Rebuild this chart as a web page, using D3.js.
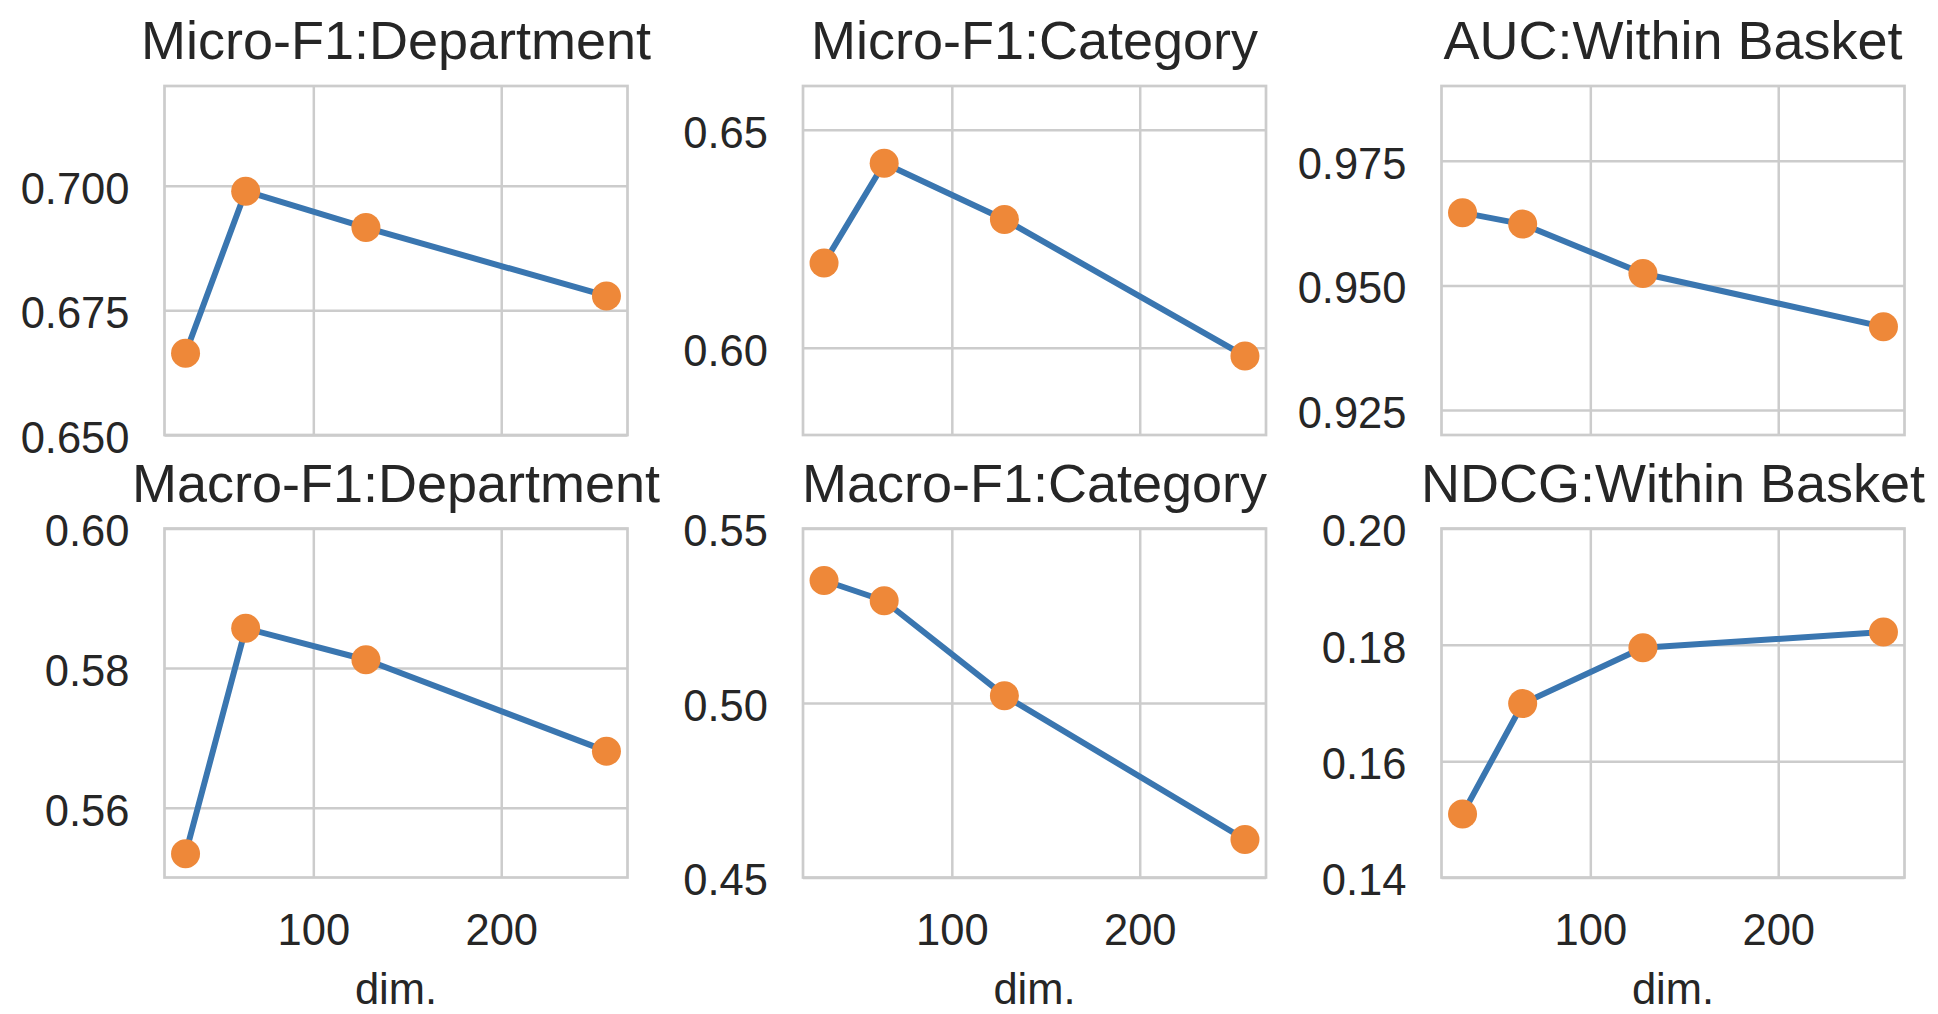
<!DOCTYPE html>
<html>
<head>
<meta charset="utf-8">
<script src="https://cdn.jsdelivr.net/npm/d3@7"></script>
<style>
  body { margin: 0; background: #fff; }
  svg { display: block; }
</style>
</head>
<body>
<svg id="chart" width="1938" height="1014"></svg>
<script>
// embedding sizes on the x axis
const dims = [32, 64, 128, 256];

const titles = [
  "Micro-F1:Department", "Micro-F1:Category", "AUC:Within Basket",
  "Macro-F1:Department", "Macro-F1:Category", "NDCG:Within Basket"
];

// metric values
const microDept  = [0.6664, 0.6989, 0.6916, 0.6779];
const microCat   = [0.6194, 0.6423, 0.6294, 0.5981];
const aucBasket  = [0.9646, 0.9623, 0.9524, 0.9417];
const macroDept  = [0.5534, 0.5857, 0.5812, 0.5681];
const macroCat   = [0.5351, 0.5293, 0.5021, 0.4609];
const ndcgBasket = [0.1509, 0.1699, 0.1795, 0.1822];

// y ranges and ticks per panel
const yDomains = [[0.65, 0.72], [0.58, 0.66], [0.92, 0.99], [0.55, 0.60], [0.45, 0.55], [0.14, 0.20]];
const yTicks = [
  [0.650, 0.675, 0.700], [0.60, 0.65], [0.925, 0.950, 0.975],
  [0.56, 0.58, 0.60], [0.45, 0.50, 0.55], [0.14, 0.16, 0.18, 0.20]
];
const yFormats = [".3f", ".2f", ".3f", ".2f", ".2f", ".2f"];
const xTicks = [100, 200];
const xLabel = "dim.";

const series = [microDept, microCat, aucBasket, macroDept, macroCat, ndcgBasket];

function buildGrid(svgid) {
  const svg = d3.select(svgid);
  const font = "'Liberation Sans', Arial, Helvetica, sans-serif";
  const gridColor = "#cccccc";
  const lineColor = "#3a76b0";
  const dotColor = "#ee8839";

  const colLeft = [164.5, 803, 1441.5];
  const rowTop = [86, 528.5];
  const w = 463, h = 349;

  const x = d3.scaleLinear().domain([20.8, 267.2]).range([0, w]);

  series.forEach((vals, i) => {
    const row = Math.floor(i / 3), col = i % 3;
    const g = svg.append("g")
      .attr("transform", `translate(${colLeft[col]},${rowTop[row]})`);

    const y = d3.scaleLinear().domain(yDomains[i]).range([h, 0]);

    // horizontal grid + y labels
    const ya = g.append("g")
      .call(d3.axisLeft(y).tickValues(yTicks[i]).tickSize(-w).tickPadding(35)
        .tickFormat(d3.format(yFormats[i])));
    ya.select(".domain").remove();
    ya.selectAll("line").attr("stroke", gridColor).attr("stroke-width", 2.5);
    ya.selectAll("text")
      .attr("dy", "0.40em")
      .style("font-family", font).style("font-size", "43.5px").attr("fill", "#262626");

    // vertical grid, labels only on the bottom row
    const xa = g.append("g")
      .attr("transform", `translate(0,${h})`)
      .call(d3.axisBottom(x).tickValues(xTicks).tickSize(-h)
        .tickFormat(row === 1 ? d3.format("d") : () => ""));
    xa.select(".domain").remove();
    xa.selectAll("line").attr("stroke", gridColor).attr("stroke-width", 2.5);
    xa.selectAll("text")
      .attr("dy", null).attr("y", 67)
      .style("font-family", font).style("font-size", "43.5px").attr("fill", "#262626");

    // frame
    g.append("rect")
      .attr("width", w).attr("height", h)
      .attr("fill", "none").attr("stroke", gridColor).attr("stroke-width", 2.7);

    // title
    g.append("text")
      .attr("x", w / 2).attr("y", -27)
      .attr("text-anchor", "middle")
      .style("font-family", font).style("font-size", "54px").attr("fill", "#262626")
      .text(titles[i]);

    if (row === 1) {
      g.append("text")
        .attr("x", w / 2).attr("y", h + 126)
        .attr("text-anchor", "middle")
        .style("font-family", font).style("font-size", "43.5px").attr("fill", "#262626")
        .text(xLabel);
    }

    const pts = dims.map((d, k) => ({ d, v: vals[k] }));

    g.append("path")
      .datum(pts)
      .attr("fill", "none")
      .attr("stroke", lineColor)
      .attr("stroke-width", 6)
      .attr("stroke-linejoin", "round")
      .attr("d", d3.line().x(p => x(p.d)).y(p => y(p.v)));

    g.selectAll(".dot")
      .data(pts)
      .enter().append("circle")
      .attr("class", "dot")
      .attr("cx", p => x(p.d))
      .attr("cy", p => y(p.v))
      .attr("r", 14.5)
      .attr("fill", dotColor);
  });
}

buildGrid("#chart");
</script>
</body>
</html>
